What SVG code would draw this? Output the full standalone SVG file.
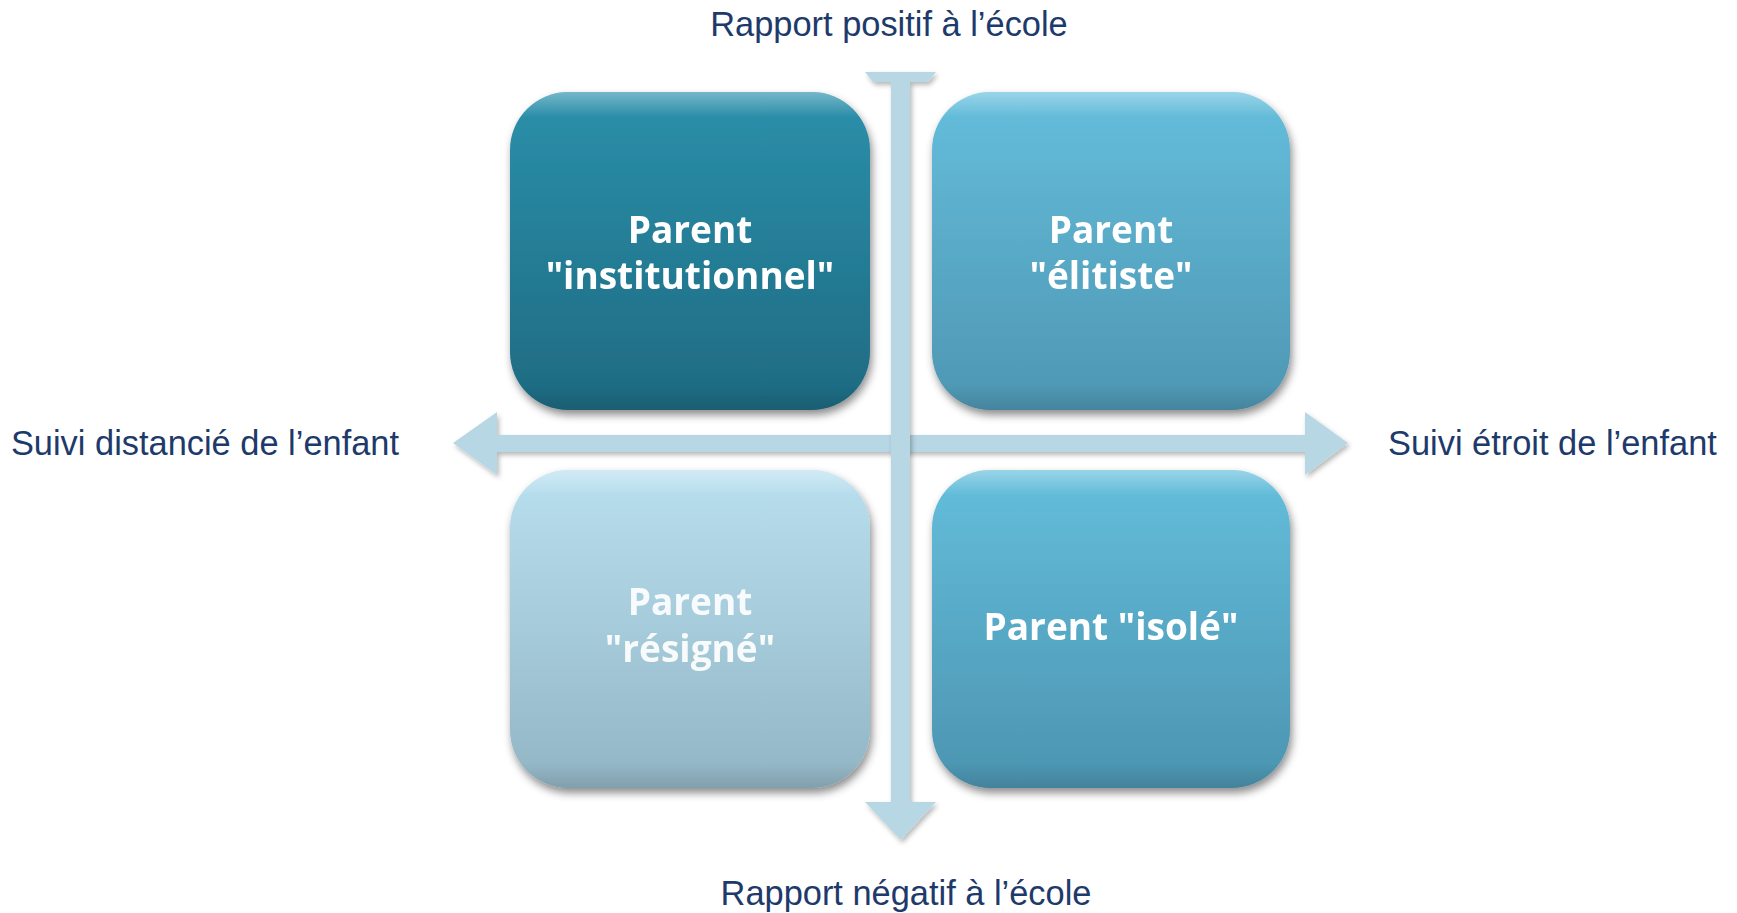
<svg xmlns="http://www.w3.org/2000/svg" width="1737" height="913" viewBox="0 0 1737 913">
<style>
.axis-label{font-family:"Liberation Sans",Arial,sans-serif;font-size:34.4px;fill:#1E3A6B;}
.box-label{font-family:"Open Sans","Noto Sans",sans-serif;font-weight:bold;font-size:37px;fill:#FFFFFF;text-anchor:middle;}
.axis{fill:#B7D7E4;filter:url(#axShadow);}
.hl{fill:url(#gHl);}
</style>
<defs>
<linearGradient id="g1" x1="0" y1="0" x2="0" y2="1"><stop offset="0" stop-color="#2B90AB"/><stop offset="1" stop-color="#1E6A81"/></linearGradient>
<linearGradient id="g2" x1="0" y1="0" x2="0" y2="1"><stop offset="0" stop-color="#64BEDC"/><stop offset="1" stop-color="#4E96B2"/></linearGradient>
<linearGradient id="g3" x1="0" y1="0" x2="0" y2="1"><stop offset="0" stop-color="#B9E0F0"/><stop offset="1" stop-color="#92B5C4"/></linearGradient>
<linearGradient id="g4" x1="0" y1="0" x2="0" y2="1"><stop offset="0" stop-color="#63BEDC"/><stop offset="1" stop-color="#4C94B0"/></linearGradient>
<linearGradient id="gHl" x1="0" y1="0" x2="0" y2="1"><stop offset="0" stop-color="#FFFFFF" stop-opacity="0.35"/><stop offset="0.08" stop-color="#FFFFFF" stop-opacity="0"/><stop offset="0.92" stop-color="#000000" stop-opacity="0"/><stop offset="1" stop-color="#000000" stop-opacity="0.12"/></linearGradient>
<filter id="boxShadow" x="-10%" y="-10%" width="125%" height="125%">
<feDropShadow dx="2" dy="5" stdDeviation="4" flood-color="#000" flood-opacity="0.45"/>
</filter>
<filter id="axShadow" x="-5%" y="-10%" width="110%" height="125%">
<feDropShadow dx="2" dy="3" stdDeviation="2.5" flood-color="#000" flood-opacity="0.28"/>
</filter>
</defs>
<rect width="1737" height="913" fill="#FFFFFF"/>
<g id="connectors">
<path id="axis-h" class="axis" d="M453,443 L497,412 L497,435 L1305,435 L1305,412 L1348,443 L1305,475 L1305,452 L497,452 L497,475 Z"/>
<path id="axis-v" class="axis" d="M865,72 L936,72 L928,82 L910,82 L910,802 L936,802 L900.5,840 L865,802 L891,802 L891,82 L873,82 Z"/>
</g>
<g id="node-institutionnel" filter="url(#boxShadow)">
<rect x="510" y="92" width="360" height="318" rx="58" fill="url(#g1)"/>
<rect x="510" y="92" width="360" height="318" rx="58" class="hl"/>
<text class="box-label" x="690" y="243">Parent</text>
<text class="box-label" x="690" y="289">"institutionnel"</text>
</g>
<g id="node-elitiste" filter="url(#boxShadow)">
<rect x="932" y="92" width="358" height="318" rx="58" fill="url(#g2)"/>
<rect x="932" y="92" width="358" height="318" rx="58" class="hl"/>
<text class="box-label" x="1111" y="243">Parent</text>
<text class="box-label" x="1111" y="289">"élitiste"</text>
</g>
<g id="node-resigne" filter="url(#boxShadow)">
<rect x="510" y="470" width="360" height="318" rx="58" fill="url(#g3)"/>
<rect x="510" y="470" width="360" height="318" rx="58" class="hl"/>
<text class="box-label" x="690" y="615" fill-opacity="0.92">Parent</text>
<text class="box-label" x="690" y="662" fill-opacity="0.92">"résigné"</text>
</g>
<g id="node-isole" filter="url(#boxShadow)">
<rect x="932" y="470" width="358" height="318" rx="58" fill="url(#g4)"/>
<rect x="932" y="470" width="358" height="318" rx="58" class="hl"/>
<text class="box-label" x="1111" y="640">Parent "isolé"</text>
</g>
<g id="labels">
<text class="axis-label" x="889" y="36" text-anchor="middle">Rapport positif à l’école</text>
<text class="axis-label" x="906" y="905" text-anchor="middle">Rapport négatif à l’école</text>
<text class="axis-label" x="399" y="455" text-anchor="end">Suivi distancié de l’enfant</text>
<text class="axis-label" x="1388" y="455">Suivi étroit de l’enfant</text>
</g>
</svg>
